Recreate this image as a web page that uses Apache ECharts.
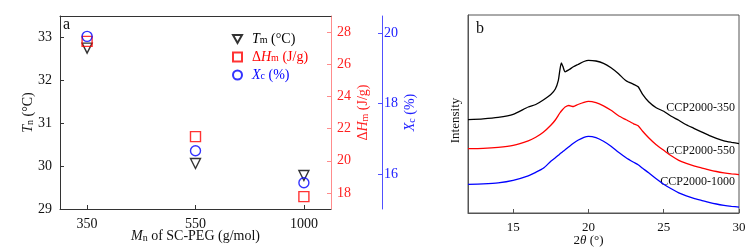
<!DOCTYPE html>
<html><head><meta charset="utf-8">
<script src="https://cdn.jsdelivr.net/npm/echarts@6/dist/echarts.min.js"></script>
<style>html,body{margin:0;padding:0;background:#fff}#c{width:756px;height:251px}</style>
</head><body><div id="c"></div>
<script>
// Panel a data
const categories = ['350', '550', '1000'];
const tmValues = [32.75, 30.06, 29.78];
const dhValues = [27.42, 21.5, 17.77];
const xcValues = [19.92, 16.66, 15.75];
const tmTicks = [29, 30, 31, 32, 33];
const dhTicks = [18, 20, 22, 24, 26, 28];
const xcTicks = [16, 18, 20];
// Panel b data
const thetaTicks = [15, 20, 25, 30];
const theta = [12,13,14,15,16,16.5,17,17.5,17.8,18,18.1,18.2,18.3,18.45,18.7,19,19.3,19.7,20,20.5,21,21.5,22,22.5,23,23.3,23.6,24,24.5,25,25.5,26,26.5,27,27.5,28,28.5,29,29.5,30];
const ccp350 = [93.4,94.2,95.7,98.7,106,108.5,113,118.5,124,132.7,142.7,150,146.7,141.2,143.2,146.2,148.5,151.5,152.7,152,149.7,145.2,139.2,132.2,128.7,126.2,118.7,111.2,105.2,101.7,96.7,92.7,88.2,84.7,81.2,77.7,74.7,72.2,70.7,69.4];
const ccp550 = [64.4,64.7,65.7,67.7,72.2,75.7,80.7,87.7,93,97.7,100,102,103.7,106,107.5,106.5,108.5,110.7,111.7,110.4,107.2,102.7,97.2,93.2,89.2,87.2,81.7,75.2,68.2,62.7,57.2,52.7,49.7,47.2,45.2,43.2,41.5,40.2,39.2,38.4];
const ccp1000 = [28.7,29.2,30.2,32.7,37.2,40.7,44.7,51.7,55.2,57.7,59,60.2,61.4,63.2,66.2,69.7,72.7,75.7,76.7,75.4,71.7,66.7,60.7,55.2,50.7,48.2,44.7,40.2,34.2,28.7,24.2,20.2,17.2,14.7,12.7,10.7,9,7.7,6.7,5.9];
const curveNames = ['CCP2000-350', 'CCP2000-550', 'CCP2000-1000'];

const FONT = 'Liberation Serif';
const sub = {fontSize: 10, verticalAlign: 'bottom', lineHeight: 10, fontFamily: FONT};
const ita = {fontStyle: 'italic', fontFamily: FONT};
const richBase = {i: ita, s: sub};

const pts = vals => vals.map((v, k) => [k, v]);
const pair = (xs, ys) => xs.map((x, k) => [x, ys[k]]);

const chart = echarts.init(document.getElementById('c'), null, {renderer: 'canvas'});
const legendLabel = {Tm: '{i|T}{s|m} (°C)', dHm: 'Δ{i|H}{s|m} (J/g)', Xc: '{i|X}{s|c} (%)'};

chart.setOption({
  animation: false,
  backgroundColor: '#fff',
  textStyle: {fontFamily: FONT},
  grid: [
    {left: 60, top: 16, width: 271, height: 193, outerBoundsMode: 'none'},
    {left: 468, top: 15, width: 271, height: 198, show: true, borderColor: '#555', borderWidth: 1, outerBoundsMode: 'none'}
  ],
  legend: {
    orient: 'vertical', left: 232, top: 32, padding: 0, itemWidth: 9, itemHeight: 9, itemGap: 4,
    textStyle: {fontSize: 14, fontFamily: FONT, lineHeight: 13, padding: [0, 0, 0, 5], rich: richBase},
    formatter: n => legendLabel[n],
    data: [
      {name: 'Tm', icon: 'path://M0,0 L10,0 L5,9 Z', textStyle: {color: '#000'}},
      {name: 'dHm', textStyle: {color: '#ff0000'}},
      {name: 'Xc', textStyle: {color: '#0000ff'}}
    ]
  },
  xAxis: [
    {gridIndex: 0, type: 'value', min: -0.25, max: 2.25,
     name: '{i|M}{s|n} of SC-PEG (g/mol)', nameLocation: 'middle', nameGap: 20, nameMoveOverlap: false,
     nameTextStyle: {fontSize: 14, color: '#111', rich: richBase},
     axisLine: {onZero: false, lineStyle: {color: '#333'}},
     axisTick: {inside: true, length: 4, lineStyle: {color: '#333'}, customValues: [0, 1, 2]},
     axisLabel: {fontSize: 14, color: '#111', margin: 8, customValues: [0, 1, 2], formatter: v => categories[Math.round(v)]},
     splitLine: {show: false}},
    {gridIndex: 0, type: 'value', position: 'top', min: -0.25, max: 2.25,
     axisLine: {onZero: false, lineStyle: {color: '#333'}}, axisTick: {show: false}, axisLabel: {show: false}, splitLine: {show: false}},
    {gridIndex: 1, type: 'value', min: 12, max: 30,
     name: '2{i|θ} (°)', nameLocation: 'middle', nameGap: 21, nameMoveOverlap: false,
     nameTextStyle: {fontSize: 13, color: '#111', rich: richBase, padding: [0, 30, 0, 0]},
     axisLine: {onZero: false, lineStyle: {color: '#555'}},
     axisTick: {inside: true, length: 4, lineStyle: {color: '#555'}, customValues: thetaTicks},
     axisLabel: {fontSize: 13, color: '#111', margin: 8, customValues: thetaTicks},
     splitLine: {show: false}}
  ],
  yAxis: [
    {gridIndex: 0, type: 'value', min: 29, max: 33.5,
     name: '{i|T}{s|n} (°C)', nameLocation: 'middle', nameGap: 25, nameMoveOverlap: false,
     nameTextStyle: {fontSize: 14, color: '#111', rich: richBase},
     axisLine: {show: true, onZero: false, lineStyle: {color: '#333'}},
     axisTick: {show: true, inside: true, length: 4, lineStyle: {color: '#333'}, customValues: tmTicks},
     axisLabel: {fontSize: 14, color: '#111', margin: 8, customValues: tmTicks},
     splitLine: {show: false}},
    {gridIndex: 0, type: 'value', position: 'right', min: 17, max: 29,
     name: 'Δ{i|H}{s|m} (J/g)', nameLocation: 'middle', nameGap: 25, nameMoveOverlap: false,
     nameTextStyle: {fontSize: 14, color: '#ff2020', rich: richBase},
     axisLine: {show: true, onZero: false, lineStyle: {color: '#ff8c8c'}},
     axisTick: {show: true, inside: true, length: 4, lineStyle: {color: '#ff8c8c'}, customValues: dhTicks},
     axisLabel: {fontSize: 14, color: '#ff2020', margin: 6, customValues: dhTicks},
     splitLine: {show: false}},
    {gridIndex: 0, type: 'value', position: 'right', offset: 51, min: 15, max: 20.5,
     name: '{i|X}{s|c} (%)', nameLocation: 'middle', nameGap: 21, nameMoveOverlap: false,
     nameTextStyle: {fontSize: 14, color: '#2020ff', rich: richBase},
     axisLine: {show: true, onZero: false, lineStyle: {color: '#5050ff'}},
     axisTick: {show: true, inside: true, length: 4, lineStyle: {color: '#5050ff'}, customValues: xcTicks},
     axisLabel: {fontSize: 14, color: '#2020ff', margin: 2, customValues: xcTicks},
     splitLine: {show: false}},
    {gridIndex: 1, type: 'value', min: 0, max: 198,
     name: 'Intensity', nameLocation: 'middle', nameGap: 6, nameMoveOverlap: false,
     nameTextStyle: {fontSize: 13, color: '#111', padding: [0, 13, 0, 0]},
     axisLine: {show: true, onZero: false, lineStyle: {color: '#555'}}, axisTick: {show: false}, axisLabel: {show: false},
     splitLine: {show: false}}
  ],
  series: [
    {name: 'Tm', type: 'scatter', xAxisIndex: 0, yAxisIndex: 0, data: pts(tmValues),
     symbol: 'triangle', symbolRotate: 180, symbolSize: 10,
     itemStyle: {color: '#fff', borderColor: '#000', borderWidth: 1.4}, z: 3},
    {name: 'dHm', type: 'scatter', xAxisIndex: 0, yAxisIndex: 1, data: pts(dhValues),
     symbol: 'rect', symbolSize: 10,
     itemStyle: {color: 'rgba(255,255,255,0)', borderColor: '#ff0000', borderWidth: 1.4}, z: 4},
    {name: 'Xc', type: 'scatter', xAxisIndex: 0, yAxisIndex: 2, data: pts(xcValues),
     symbol: 'circle', symbolSize: 10,
     itemStyle: {color: 'rgba(255,255,255,0)', borderColor: '#0000ff', borderWidth: 1.4}, z: 5},
    {name: curveNames[0], type: 'line', xAxisIndex: 2, yAxisIndex: 3, data: pair(theta, ccp350),
     showSymbol: false, smooth: 0.2, lineStyle: {color: '#000', width: 1.3}},
    {name: curveNames[1], type: 'line', xAxisIndex: 2, yAxisIndex: 3, data: pair(theta, ccp550),
     showSymbol: false, smooth: 0.2, lineStyle: {color: '#ff0000', width: 1.3}},
    {name: curveNames[2], type: 'line', xAxisIndex: 2, yAxisIndex: 3, data: pair(theta, ccp1000),
     showSymbol: false, smooth: 0.2, lineStyle: {color: '#0000ff', width: 1.3}}
  ],
  graphic: [
    {type: 'text', left: 63, top: 17, style: {text: 'a', font: '16px "Liberation Serif"', fill: '#111'}},
    {type: 'text', left: 476, top: 21, style: {text: 'b', font: '16px "Liberation Serif"', fill: '#111'}},
    {type: 'text', x: 735, y: 108, style: {text: curveNames[0], font: '12px "Liberation Serif"', fill: '#111', align: 'right', verticalAlign: 'middle'}},
    {type: 'text', x: 735, y: 151, style: {text: curveNames[1], font: '12px "Liberation Serif"', fill: '#111', align: 'right', verticalAlign: 'middle'}},
    {type: 'text', x: 735, y: 182, style: {text: curveNames[2], font: '12px "Liberation Serif"', fill: '#111', align: 'right', verticalAlign: 'middle'}}
  ]
});
</script></body></html>
